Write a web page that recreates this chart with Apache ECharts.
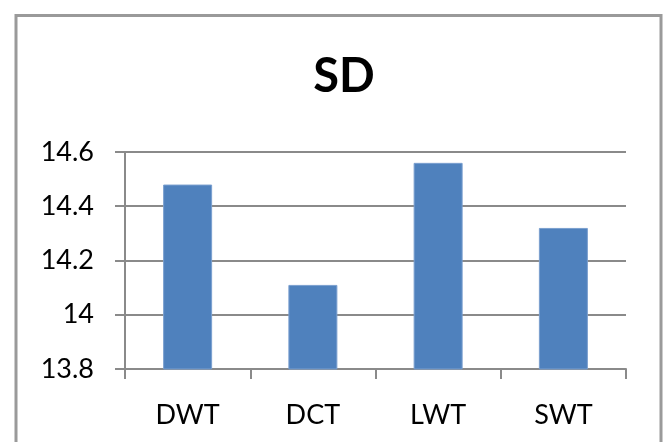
<!DOCTYPE html>
<html>
<head>
<meta charset="utf-8">
<script src="https://cdn.jsdelivr.net/npm/echarts@6/dist/echarts.min.js"></script>
<style>
  html, body { margin: 0; padding: 0; background: #fff; }
  #chart { width: 664px; height: 442px; }
</style>
</head>
<body>
<div id="chart"></div>
<script>
const titleText = 'SD';
const categories = ['DWT', 'DCT', 'LWT', 'SWT'];
const sdValues = [14.48, 14.11, 14.56, 14.32];
const yMin = 13.8;
const yMax = 14.6;
const yStep = 0.2;

const chart = echarts.init(document.getElementById('chart'), null, { renderer: 'canvas' });
const gridColor = '#8a8a8a';
chart.setOption({
  animation: false,
  backgroundColor: '#ffffff',
  textStyle: { fontFamily: 'Lato' },
  title: {
    text: titleText,
    left: 339,
    textAlign: 'center',
    top: 48,
    textStyle: { fontFamily: 'Lato', fontWeight: 'bold', fontSize: 47, color: '#000' }
  },
  graphic: [{
    type: 'rect',
    shape: { x: 16, y: 15.5, width: 645, height: 460 },
    style: { fill: 'none', stroke: '#9a9a9a', lineWidth: 3 },
    silent: true,
    z: -1
  }],
  grid: { left: 125, right: 38, top: 152, bottom: 73, containLabel: false },
  xAxis: {
    type: 'category',
    data: categories,
    boundaryGap: true,
    axisLine: { show: true, lineStyle: { color: gridColor, width: 2 } },
    axisTick: { show: true, length: 10, lineStyle: { color: gridColor, width: 2 } },
    axisLabel: { color: '#000', fontFamily: 'Lato', fontSize: 27, margin: 33 },
    splitLine: { show: false }
  },
  yAxis: {
    type: 'value',
    min: yMin,
    max: yMax,
    interval: yStep,
    axisLine: { show: true, lineStyle: { color: gridColor, width: 2 } },
    axisTick: { show: true, length: 10, lineStyle: { color: gridColor, width: 2 } },
    axisLabel: {
      color: '#000', fontFamily: 'Lato', fontSize: 27, margin: 31,
      formatter: v => String(Math.round(v * 10) / 10)
    },
    splitLine: { show: true, lineStyle: { color: gridColor, width: 2 } }
  },
  series: [{
    type: 'bar',
    data: sdValues,
    barWidth: 49,
    itemStyle: { color: '#4f81bd', borderColor: '#7a9fcf', borderWidth: 1 }
  }]
});
</script>
</body>
</html>
